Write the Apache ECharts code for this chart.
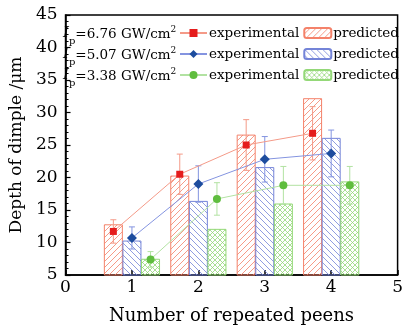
<!DOCTYPE html>
<html>
<head>
<meta charset="utf-8">
<script src="https://cdn.jsdelivr.net/npm/echarts@6/dist/echarts.min.js"></script>
<style>
  html, body { margin: 0; padding: 0; background: #fff; }
  #chart { width: 406px; height: 330px; }
</style>
</head>
<body>
<div id="chart"></div>
<script>
// 重复冲击次数
var peens = [1, 2, 3, 4];
var xTicks = [0, 1, 2, 3, 4, 5];
var yTicks = [5, 10, 15, 20, 25, 30, 35, 40, 45];
var intensities = ['6.76', '5.07', '3.38'];

// experimental (mean, error)
var expHigh = [11.7, 20.5, 25.0, 26.8];
var errHigh = [1.8, 3.1, 3.9, 4.1];
var expMid = [10.7, 19.0, 22.8, 23.7];
var errMid = [1.7, 2.8, 3.5, 3.6];
var expLow = [7.4, 16.7, 18.8, 18.8];
var errLow = [1.2, 2.5, 2.9, 2.9];

// predicted
var predHigh = [12.8, 20.3, 26.6, 32.2];
var predMid = [10.3, 16.4, 21.6, 26.1];
var predLow = [7.5, 12.1, 16.0, 19.4];

var FONT = 'DejaVu Serif';

// 填充花纹
function hatch(color, kind) {
  var s = kind === 'x' ? 5 : 6;
  var c = document.createElement('canvas');
  c.width = s; c.height = s;
  var g = c.getContext('2d');
  g.strokeStyle = color;
  g.lineWidth = 0.8;
  g.beginPath();
  if (kind === '/' || kind === 'x') {
    g.moveTo(-1, s + 1); g.lineTo(s + 1, -1);
    g.moveTo(-1, 1); g.lineTo(1, -1);
    g.moveTo(s - 1, s + 1); g.lineTo(s + 1, s - 1);
  }
  if (kind === '\\' || kind === 'x') {
    g.moveTo(-1, -1); g.lineTo(s + 1, s + 1);
    g.moveTo(s - 1, -1); g.lineTo(s + 1, 1);
    g.moveTo(-1, s - 1); g.lineTo(1, s + 1);
  }
  g.stroke();
  return { image: c, repeat: 'repeat' };
}

var groups = [
  { exp: expHigh, err: errHigh, pred: predHigh, off: -0.28, bar: '#f4826a', line: '#f49a88', mark: '#e51c1c', symbol: 'rect', size: 7, kind: '/' },
  { exp: expMid, err: errMid, pred: predMid, off: 0, bar: '#7484d8', line: '#8494e0', mark: '#1d4c9e', symbol: 'diamond', size: 10, kind: '\\' },
  { exp: expLow, err: errLow, pred: predLow, off: 0.28, bar: '#94d878', line: '#b2e2a2', mark: '#5fbd3e', symbol: 'circle', size: 8, kind: 'x' }
];

var series = [];
var legends = [];
var texts = [];

groups.forEach(function (gr, i) {
  var predData = peens.map(function (p, k) { return [p + gr.off, gr.pred[k]]; });
  var expData = peens.map(function (p, k) { return [p + gr.off, gr.exp[k]]; });
  var errData = peens.map(function (p, k) { return [p + gr.off, gr.exp[k] - gr.err[k], gr.exp[k] + gr.err[k]]; });

  series.push({
    name: 'pred' + i,
    type: 'bar',
    data: predData,
    barWidth: 19,
    barGap: '-100%',
    z: 1,
    itemStyle: { color: hatch(gr.bar, gr.kind), borderColor: gr.bar, borderWidth: 1 }
  });
  series.push({
    name: 'err' + i,
    type: 'custom',
    data: errData,
    z: 3,
    renderItem: function (params, api) {
      var lo = api.coord([api.value(0), api.value(1)]);
      var hi = api.coord([api.value(0), api.value(2)]);
      var w = 3;
      return {
        type: 'group',
        children: [
          { type: 'line', shape: { x1: lo[0], y1: lo[1], x2: hi[0], y2: hi[1] }, style: { stroke: gr.line, lineWidth: 1 } },
          { type: 'line', shape: { x1: lo[0] - w, y1: lo[1], x2: lo[0] + w, y2: lo[1] }, style: { stroke: gr.line, lineWidth: 1 } },
          { type: 'line', shape: { x1: hi[0] - w, y1: hi[1], x2: hi[0] + w, y2: hi[1] }, style: { stroke: gr.line, lineWidth: 1 } }
        ]
      };
    }
  });
  series.push({
    name: 'exp' + i,
    type: 'line',
    data: expData,
    z: 4,
    symbol: gr.symbol,
    symbolSize: gr.size,
    lineStyle: { color: gr.line, width: 1 },
    itemStyle: { color: gr.mark },
    emphasis: { disabled: true }
  });

  legends.push({
    left: 179,
    top: 26 + i * 21,
    width: 240,
    padding: 0,
    itemWidth: 27,
    itemHeight: 10,
    itemGap: 4,
    selectedMode: false,
    data: ['exp' + i, 'pred' + i],
    formatter: function (n) { return n.indexOf('exp') === 0 ? 'experimental' : 'predicted'; },
    textStyle: { fontFamily: FONT, fontSize: 13.5, color: '#000', padding: [0, 0, 0, -3] }
  });

  texts.push({
    type: 'text',
    left: 63,
    top: 25 + i * 21,
    style: {
      text: '{i|I}{s|p}{n|=' + intensities[i] + ' GW/cm}{u|2}',
      rich: {
        i: { fontFamily: FONT, fontStyle: 'italic', fontSize: 15, fill: '#000', verticalAlign: 'bottom' },
        s: { fontFamily: FONT, fontSize: 10, fill: '#000', padding: [0, 0, -5, 0], verticalAlign: 'bottom' },
        n: { fontFamily: FONT, fontSize: 13.5, fill: '#000', verticalAlign: 'bottom' },
        u: { fontFamily: FONT, fontSize: 9, fill: '#000', padding: [0, 0, 7, 0], verticalAlign: 'bottom' }
      }
    }
  });
});

var chart = echarts.init(document.getElementById('chart'));
chart.setOption({
  animation: false,
  grid: {
    left: 61, right: 4, top: 15, bottom: 45,
    show: true, borderColor: '#000', borderWidth: 1.5, backgroundColor: 'transparent'
  },
  legend: legends,
  graphic: texts,
  xAxis: {
    type: 'value',
    min: xTicks[0],
    max: xTicks[xTicks.length - 1],
    interval: 1,
    name: 'Number of repeated peens',
    nameLocation: 'middle',
    nameGap: 32,
    nameTextStyle: { fontFamily: FONT, fontSize: 18, color: '#000' },
    axisLine: { lineStyle: { color: '#000', width: 1.5 } },
    axisTick: { inside: true, length: 5, lineStyle: { color: '#000', width: 1.5 } },
    splitLine: { show: false },
    axisLabel: { fontFamily: FONT, fontSize: 17, color: '#000', margin: 4, showMinLabel: true, showMaxLabel: true }
  },
  yAxis: {
    type: 'value',
    min: yTicks[0],
    max: yTicks[yTicks.length - 1],
    interval: 5,
    name: 'Depth of dimple /μm',
    nameLocation: 'middle',
    nameGap: 36,
    nameTextStyle: { fontFamily: FONT, fontSize: 17, color: '#000' },
    axisLine: { lineStyle: { color: '#000', width: 1.5 } },
    axisTick: { inside: true, length: 5, lineStyle: { color: '#000', width: 1.2 } },
    minorTick: { show: true, splitNumber: 5, length: 3, lineStyle: { color: '#000', width: 1 } },
    splitLine: { show: false },
    axisLabel: { fontFamily: FONT, fontSize: 17, color: '#000', margin: 8, showMinLabel: true, showMaxLabel: true }
  },
  series: series
});
</script>
</body>
</html>
